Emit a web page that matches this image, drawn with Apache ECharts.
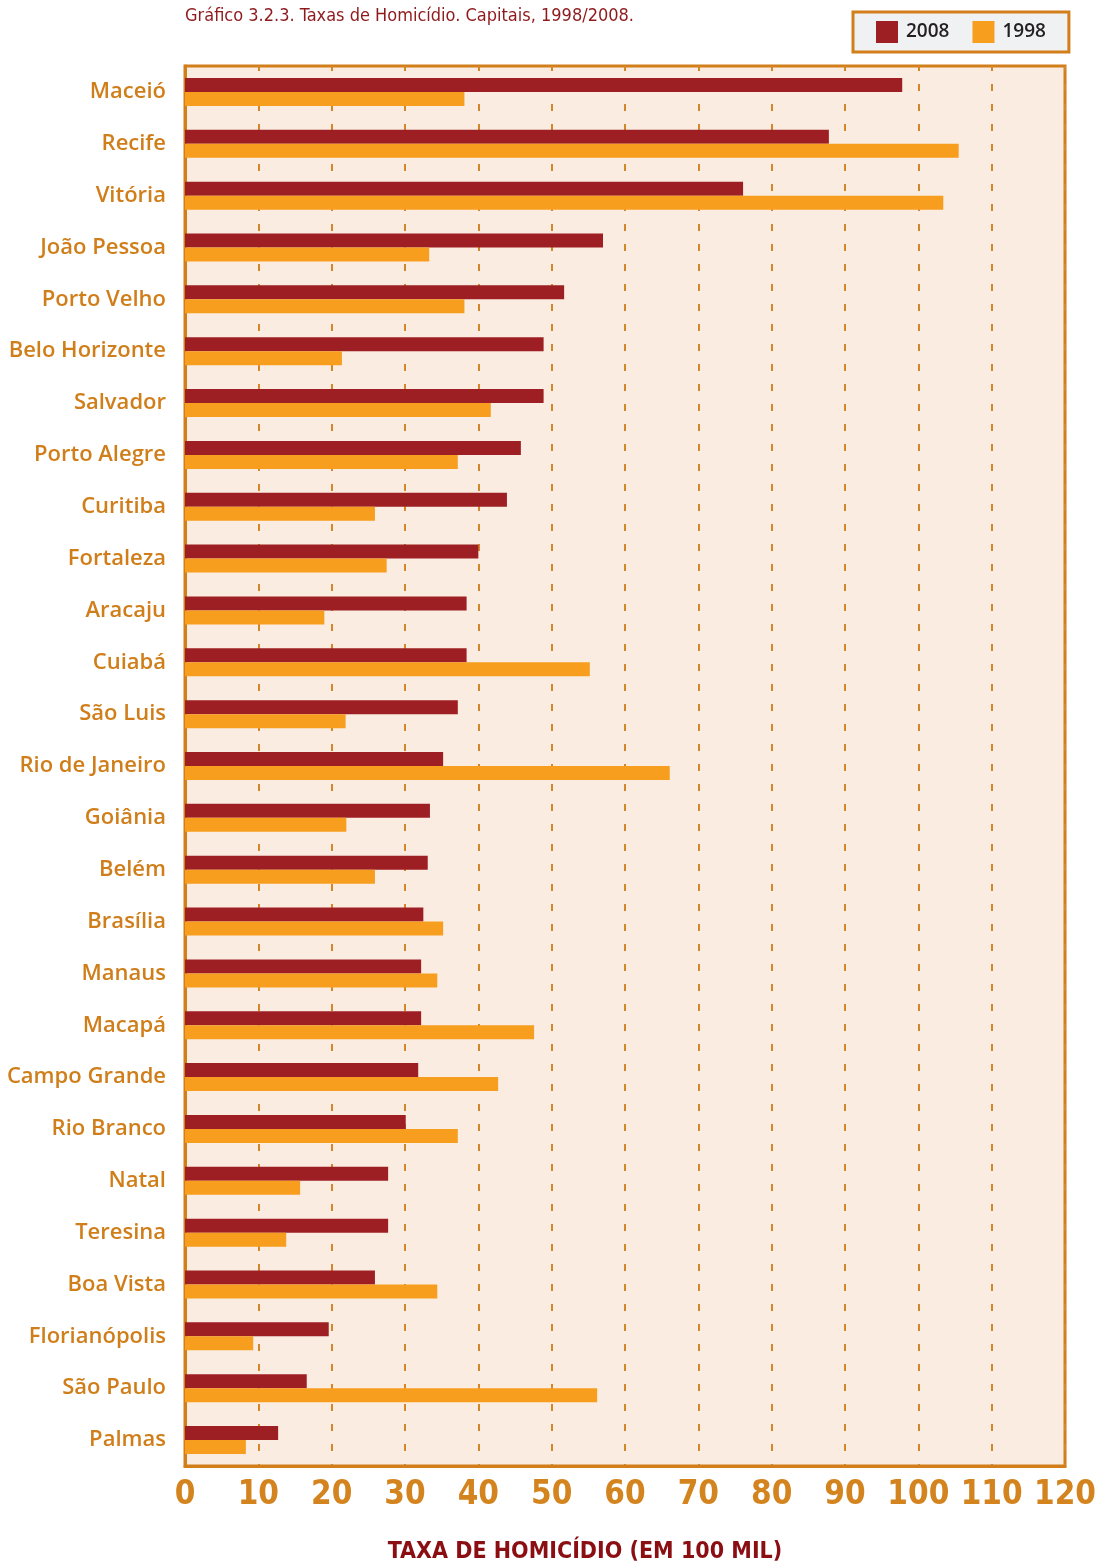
<!DOCTYPE html>
<html>
<head>
<meta charset="utf-8">
<style>
  html, body { margin: 0; padding: 0; background: #ffffff; }
  #chart { width: 1099px; height: 1562px; }
</style>
<script src="https://cdn.jsdelivr.net/npm/echarts@6/dist/echarts.min.js"></script>
</head>
<body>
<div id="chart"></div>
<script>
const categories = ["Maceió","Recife","Vitória","João Pessoa","Porto Velho","Belo Horizonte","Salvador","Porto Alegre","Curitiba","Fortaleza","Aracaju","Cuiabá","São Luis","Rio de Janeiro","Goiânia","Belém","Brasília","Manaus","Macapá","Campo Grande","Rio Branco","Natal","Teresina","Boa Vista","Florianópolis","São Paulo","Palmas"];
const values2008 = [97.8,87.8,76.1,57.0,51.7,48.9,48.9,45.8,43.9,40.0,38.4,38.4,37.2,35.2,33.4,33.1,32.5,32.2,32.2,31.8,30.1,27.7,27.7,25.9,19.6,16.6,12.7];
const values1998 = [38.1,105.5,103.4,33.3,38.1,21.4,41.7,37.2,25.9,27.5,19.0,55.2,21.9,66.1,22.0,25.9,35.2,34.4,47.6,42.7,37.2,15.7,13.8,34.4,9.3,56.2,8.3];
const xTicks = [0,10,20,30,40,50,60,70,80,90,100,110,120];

const orange = '#D17E1B';
const condensed = "'DejaVu Sans Condensed', 'Liberation Sans Narrow', sans-serif";
const chart = echarts.init(document.getElementById('chart'), null, {renderer: 'canvas'});
chart.setOption({
  backgroundColor: '#ffffff',
  animation: false,
  title: [
    {
      text: 'Gráfico 3.2.3. Taxas de Homicídio. Capitais, 1998/2008.',
      left: 180, top: 2,
      textStyle: { fontFamily: condensed, fontWeight: 'normal', fontSize: 18, color: '#8E1A1D' }
    },
    {
      text: 'TAXA DE HOMICÍDIO (EM 100 MIL)',
      left: 580, top: 1536, textAlign: 'center',
      textStyle: { fontFamily: condensed, fontWeight: 'bold', fontSize: 23, color: '#8A0E12' }
    }
  ],
  legend: {
    left: 853, top: 12,
    orient: 'horizontal',
    padding: [9, 23, 9, 23],
    itemWidth: 22, itemHeight: 22, itemGap: 23,
    backgroundColor: '#F0F1F3',
    borderColor: orange, borderWidth: 3, borderRadius: 0,
    icon: 'rect',
    textStyle: { fontFamily: 'Open Sans', fontWeight: 600, fontSize: 19, color: '#231F20', padding: [0, 0, 0, 3] },
    data: ['2008', '1998']
  },
  grid: {
    left: 185, right: 33, top: 66, bottom: 96,
    show: true, backgroundColor: '#FAECE0', borderColor: orange, borderWidth: 3
  },
  xAxis: {
    type: 'value', min: 0, max: 120, interval: 10,
    axisLine: { show: true, lineStyle: { color: orange, width: 3 } },
    axisTick: { show: false },
    splitLine: { show: true, lineStyle: { color: '#D4862A', width: 2, type: [7, 13], dashOffset: 2 } },
    axisLabel: {
      margin: 13,
      fontFamily: condensed, fontWeight: 'bold', fontSize: 33, color: '#D4841F',
      formatter: function (v) { return xTicks.indexOf(v) >= 0 ? String(v) : ''; }
    }
  },
  yAxis: {
    type: 'category', data: categories, inverse: true,
    axisLine: { show: true, lineStyle: { color: orange, width: 3 } },
    axisTick: { show: false },
    axisLabel: { margin: 19, fontFamily: 'Open Sans', fontWeight: 600, fontSize: 22, color: '#D07E1A' }
  },
  series: [
    { name: '2008', type: 'bar', data: values2008, barWidth: 14, barGap: '0%', itemStyle: { color: '#9E1F23' } },
    { name: '1998', type: 'bar', data: values1998, barWidth: 14, barGap: '0%', itemStyle: { color: '#F79E1E' } }
  ]
});
</script>
</body>
</html>
